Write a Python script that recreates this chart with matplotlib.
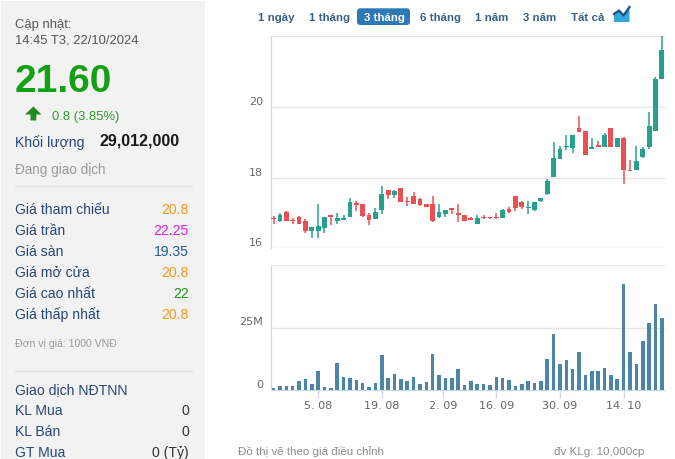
import matplotlib
matplotlib.use('Agg')
import matplotlib.pyplot as plt
from matplotlib.patches import Rectangle, FancyBboxPatch, Polygon
import matplotlib.transforms as mtransforms

# ---------------- data ----------------
opens = [16.85, 16.78, 17.03, 16.77, 16.90, 16.78, 16.48, 16.50, 16.57, 16.91,
         16.78, 16.80, 16.88, 17.28, 17.26, 16.95, 16.84, 17.09, 17.64, 17.50,
         17.70, 17.35, 17.47, 17.39, 17.24, 17.24, 16.88, 16.97, 17.14, 17.01,
         16.93, 16.86, 16.70, 16.87, 16.87, 16.90, 16.86, 17.10, 17.49, 17.30,
         17.14, 17.09, 17.33, 17.54, 18.02, 18.53, 18.86, 18.84, 19.41, 19.31,
         18.80, 18.91, 18.88, 19.41, 18.88, 19.12, 18.23, 18.23, 18.59, 18.88,
         19.33, 20.80]
highs = [16.91, 17.01, 17.05, 16.86, 16.91, 16.82, 16.59, 17.26, 16.90, 16.91,
         17.01, 16.93, 17.41, 17.35, 17.26, 16.99, 17.14, 17.75, 17.64, 17.66,
         17.70, 17.45, 17.60, 17.41, 17.26, 17.47, 17.24, 17.09, 17.14, 17.24,
         16.93, 16.88, 16.95, 16.93, 16.90, 17.01, 17.10, 17.18, 17.49, 17.35,
         17.33, 17.30, 17.43, 17.96, 19.01, 18.90, 19.20, 19.20, 19.75, 19.33,
         19.12, 19.05, 19.26, 19.41, 19.12, 19.14, 18.50, 18.90, 18.88, 19.87,
         20.84, 22.00]
lows = [16.70, 16.74, 16.76, 16.70, 16.70, 16.42, 16.30, 16.30, 16.42, 16.65,
        16.69, 16.80, 16.88, 17.05, 16.90, 16.67, 16.82, 16.97, 17.39, 17.43,
        17.30, 17.20, 17.24, 17.20, 17.16, 16.74, 16.86, 16.90, 16.97, 16.74,
        16.78, 16.80, 16.70, 16.82, 16.82, 16.82, 16.86, 17.01, 17.05, 17.12,
        16.97, 17.05, 17.30, 17.50, 18.02, 18.53, 18.78, 18.70, 19.30, 18.65,
        18.80, 18.86, 18.88, 18.86, 18.88, 17.83, 18.19, 18.23, 18.55, 18.82,
        19.33, 20.80]
closes = [16.84, 16.95, 16.76, 16.76, 16.70, 16.50, 16.59, 16.63, 16.90, 16.90,
          16.86, 16.86, 17.31, 17.22, 16.91, 16.80, 17.03, 17.54, 17.50, 17.62,
          17.31, 17.31, 17.26, 17.22, 17.18, 16.76, 17.03, 17.09, 17.07, 16.93,
          16.78, 16.80, 16.86, 16.86, 16.86, 16.86, 17.07, 17.03, 17.14, 17.16,
          17.18, 17.30, 17.43, 17.90, 18.55, 18.80, 18.90, 19.20, 19.30, 18.65,
          18.86, 18.86, 19.20, 18.86, 19.12, 18.21, 18.19, 18.46, 18.80, 19.47,
          20.80, 21.60]
volumes_m = [0.8, 1.6, 1.6, 1.6, 3.5, 4.5, 2.4, 7.7, 1.2, 0.8,
             10.9, 5.3, 4.9, 4.1, 2.8, 1.2, 2.8, 14.2, 4.9, 6.5,
             4.5, 3.6, 5.3, 2.4, 3.2, 14.6, 6.1, 4.9, 4.9, 8.5,
             2.0, 3.6, 2.4, 2.4, 2.0, 5.3, 4.9, 4.1, 1.6, 2.4,
             3.6, 2.8, 3.6, 12.6, 22.3, 10.5, 12.2, 8.5, 15.4, 6.1,
             7.7, 7.7, 8.9, 6.1, 4.5, 42.6, 15.4, 10.5, 19.5, 26.8,
             34.5, 29.0]
date_labels = ['5. 08', '19. 08', '2. 09', '16. 09', '30. 09', '14. 10']
date_label_index = [7, 17, 26.6, 35, 45, 55]
price_ticks = [16, 18, 20, 22]
price_tick_labels = ['16', '18', '20', '']
volume_ticks = [0, 25e6, 50e6]
volume_tick_labels = ['0', '25M', '']

range_buttons = ['1 ngày', '1 tháng', '3 tháng', '6 tháng', '1 năm', '3 năm', 'Tất cả']
info_labels = ['Giá tham chiếu', 'Giá trần', 'Giá sàn', 'Giá mở cửa', 'Giá cao nhất', 'Giá thấp nhất']
info_values = ['20.8', '22.25', '19.35', '20.8', '22', '20.8']
foreign_labels = ['KL Mua', 'KL Bán', 'GT Mua']
foreign_values = ['0', '0', '0 (Tỷ)']

# ---------------- figure ----------------
W, H = 675, 460
fig = plt.figure(figsize=(W / 100, H / 100), dpi=100)
fig.patch.set_facecolor('white')
PT = 72 / 100  # points per pixel

ov = fig.add_axes([0, 0, 1, 1], zorder=0)
ov.set_xlim(0, W)
ov.set_ylim(H, 0)
ov.axis('off')

FONT = 'Liberation Sans'


def txt(x, yc, s, size_px, color, ha='left', weight='normal', family=FONT):
    ov.text(x, yc + 0.36 * size_px, s, fontsize=size_px * PT, color=color,
            ha=ha, va='baseline', fontweight=weight, family=family)


# left panel
ov.add_patch(Rectangle((1, 2), 204, 458, facecolor='#f2f2f2', edgecolor='none'))
txt(15, 23, 'Cập nhật:', 13, '#555555')
txt(15, 38.5, '14:45 T3, 22/10/2024', 13, '#555555')
ov.text(15, 92, '21.60', fontsize=39 * PT, color='#14a014', fontweight='bold',
        family=FONT, ha='left', va='baseline')
ov.add_patch(Polygon([(33.3, 107.5), (41.5, 115.5), (36.3, 115.5), (36.3, 121.5),
                      (30.5, 121.5), (30.5, 115.5), (25, 115.5)],
                     closed=True, facecolor='#1e8c1e', edgecolor='none'))
txt(52, 115.5, '0.8 (3.85%)', 13, '#2e9a2e')
LABEL_C = '#284777'
txt(15, 142, 'Khối lượng', 14, LABEL_C)
txt(100, 140, '29,012,000', 16, '#1a1a1a', weight='bold')
txt(15, 169.5, 'Đang giao dịch', 13.5, '#999999')
ov.plot([15, 192], [187, 187], color='#e0e0e0', lw=1)

value_colors = ['#f39a1e', '#e020e0', '#1f5f8f', '#f39a1e', '#1a9a1a', '#f39a1e']
row_y = [208.5, 229.5, 250.5, 271.5, 292.5, 313.5]
for lab, val, col, y in zip(info_labels, info_values, value_colors, row_y):
    txt(15, y, lab, 14, LABEL_C)
    txt(189, y, val, 14, col, ha='right')
txt(15, 343.5, 'Đơn vị giá: 1000 VNĐ', 10.5, '#9a9a9a')
ov.plot([15, 192], [372, 372], color='#e0e0e0', lw=1)
txt(15, 388.5, 'Giao dịch NĐTNN', 14, LABEL_C)
for lab, val, y in zip(foreign_labels, foreign_values, [409.5, 430.5, 451.5]):
    txt(15, y, lab, 14, LABEL_C)
    txt(189, y, val, 14, '#333333', ha='right')

# range buttons
btn_x = [258, 309, 364, 420, 475, 523, 571]
for s, x in zip(range_buttons, btn_x):
    if s == '3 tháng':
        ov.add_patch(FancyBboxPatch((357, 9.3), 53, 16.7,
                                    boxstyle='round,pad=0,rounding_size=3',
                                    facecolor='#2e78b5', edgecolor='none'))
        txt(x, 16.8, s, 11.5, 'white', weight='bold')
    else:
        txt(x, 16.8, s, 11.5, '#3a6189', weight='bold')
# chart-type icon
ov.add_patch(Polygon([(614, 23), (614, 15), (619, 11.5), (623.5, 16.5), (629.5, 8), (629.5, 23)],
                     closed=True, facecolor='#2fa8d8', edgecolor='none'))
ov.plot([614, 619, 623.5, 629.5], [15, 11.5, 16.5, 8], color='#1d4f8c', lw=1.6)

# bottom notes
txt(238, 450.5, 'Đồ thị vẽ theo giá điều chỉnh', 11.5, '#8a8a8a')
txt(644, 450.5, 'đv KLg: 10,000cp', 11.5, '#8a8a8a', ha='right')

# ---------------- price panel ----------------
AX_L, AX_R = 270.7, 665
x_idx = list(range(len(closes)))
UP, DOWN = '#27a18f', '#ec4f51'
colors = [UP if c >= o else DOWN for o, c in zip(opens, closes)]

pax = fig.add_axes([AX_L / W, 1 - 249.3 / H, (AX_R - AX_L) / W, (249.3 - 36.8) / H], zorder=2)
pax.set_facecolor('none')
pax.vlines(x_idx, lows, highs, colors=colors, lw=1.1, zorder=3)
bottoms = [min(o, c) for o, c in zip(opens, closes)]
heights = [max(abs(c - o), 0.03) for o, c in zip(opens, closes)]
pax.bar(x_idx, heights, bottom=bottoms, width=0.76, color=colors, zorder=4, linewidth=0)
pax.set_xlim(-0.45, 61.5)
pax.set_ylim(16, 22.015)
pax.set_yticks(price_ticks)
pax.yaxis.grid(True, color='#e6e6e6', lw=1)
pax.set_axisbelow(True)
pax.tick_params(left=False, labelleft=False, bottom=False, labelbottom=False)
for sp in ['top', 'right', 'bottom']:
    pax.spines[sp].set_visible(False)
pax.spines['left'].set_color('#ccd6eb')

lab_x = (263 - AX_L) / (AX_R - AX_L)
off = mtransforms.ScaledTranslation(0, 0.06, fig.dpi_scale_trans)
ptrans = mtransforms.blended_transform_factory(pax.transAxes, pax.transData) + off
for v, s in zip(price_ticks, price_tick_labels):
    pax.text(lab_x, v, s, transform=ptrans, ha='right', va='center', fontsize=8,
             color='#666666', family='DejaVu Sans', clip_on=False)

# ---------------- volume panel ----------------
vax = fig.add_axes([AX_L / W, 1 - 391 / H, (AX_R - AX_L) / W, (391 - 266) / H], zorder=2)
vax.set_facecolor('none')
vax.bar(x_idx, [v * 1e6 for v in volumes_m], width=0.56, color='#4c86a7', linewidth=0, zorder=3)
vax.set_xlim(-0.45, 61.5)
vax.set_ylim(0, 50e6)
vax.set_yticks(volume_ticks)
vax.yaxis.grid(True, color='#e6e6e6', lw=1)
vax.set_axisbelow(True)
vax.tick_params(axis='y', left=False, labelleft=False)
vax.set_xticks(date_label_index)
vax.set_xticklabels(date_labels, fontsize=8, color='#666666', family='DejaVu Sans')
vax.tick_params(axis='x', length=6, width=1, color='#ccd6eb', pad=1)
for sp in ['top', 'right']:
    vax.spines[sp].set_visible(False)
vax.spines['left'].set_color('#ccd6eb')
vax.spines['bottom'].set_color('#ccd6eb')
vtrans = mtransforms.blended_transform_factory(vax.transAxes, vax.transData) + off
for v, s in zip(volume_ticks, volume_tick_labels):
    vax.text(lab_x, v, s, transform=vtrans, ha='right', va='center', fontsize=8,
             color='#666666', family='DejaVu Sans', clip_on=False)

fig.savefig('out.png', dpi=100, facecolor='white')
